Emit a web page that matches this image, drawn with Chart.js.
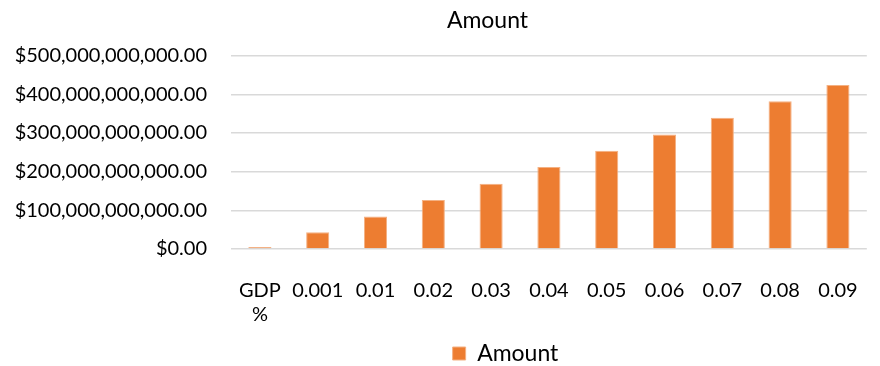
<!DOCTYPE html>
<html>
<head>
<meta charset="utf-8">
<script src="https://cdn.jsdelivr.net/npm/chart.js@4/dist/chart.umd.min.js"></script>
<style>
  html, body { margin: 0; padding: 0; background: #ffffff; }
  #wrap { width: 880px; height: 366px; }
</style>
</head>
<body>
<div id="wrap"><canvas id="grafico"></canvas></div>
<script>
// Categorias e valores
const categorias = [['GDP', '%'], '0.001', '0.01', '0.02', '0.03', '0.04', '0.05', '0.06', '0.07', '0.08', '0.09'];
const valores = [5e9, 43e9, 84e9, 127e9, 169e9, 212e9, 254e9, 296e9, 339e9, 382e9, 424e9];
const serieNome = 'Amount';
const eixoMax = 500e9;
const eixoPasso = 100e9;

const fonte = 'Lato, "Open Sans", sans-serif';

function formatarDolar(v) {
    return '$' + Number(v).toLocaleString('en-US', { minimumFractionDigits: 2, maximumFractionDigits: 2 });
}

// Excel centra título e legenda um pouco à direita do centro do canvas
const deslocarBlocos = {
    id: 'deslocarBlocos',
    afterLayout(chart) {
        if (chart.titleBlock) {
            chart.titleBlock.left += 46;
            chart.titleBlock.right += 46;
        }
        if (chart.legend) {
            chart.legend.left += 64;
            chart.legend.right += 64;
        }
    }
};

const ctx = document.getElementById('grafico').getContext('2d');
const grafico = new Chart(ctx, {
    type: 'bar',
    data: {
        labels: categorias,
        datasets: [{
            label: serieNome,
            data: valores,
            backgroundColor: '#ED7D31',
            borderColor: '#F4B183',
            borderWidth: 1,
            barPercentage: 0.4,
            categoryPercentage: 1.0
        }]
    },
    options: {
        responsive: true,
        maintainAspectRatio: false,
        animation: false,
        layout: { padding: { left: 10, right: 7, top: 5, bottom: -9 } },
        plugins: {
            title: {
                display: true,
                text: 'Amount',
                color: '#000000',
                font: { family: fonte, size: 23, weight: 'normal' },
                padding: { top: 2, bottom: 21 }
            },
            legend: {
                display: true,
                position: 'bottom',
                labels: {
                    color: '#000000',
                    font: { family: fonte, size: 23 },
                    boxWidth: 13,
                    boxHeight: 13,
                    padding: 2
                }
            },
            tooltip: { enabled: false }
        },
        scales: {
            x: {
                afterFit: function (escala) { escala.height -= 9; },
                grid: { display: false },
                border: { display: false },
                ticks: {
                    color: '#000000',
                    font: { family: fonte, size: 20 },
                    maxRotation: 0,
                    autoSkip: false,
                    padding: 22
                }
            },
            y: {
                min: 0,
                max: eixoMax,
                afterFit: function (escala) { escala.width = 221; },
                grid: { color: '#D9D9D9', lineWidth: 1.5, drawTicks: false },
                border: { display: false },
                ticks: {
                    stepSize: eixoPasso,
                    color: '#000000',
                    font: { family: fonte, size: 20 },
                    padding: 24,
                    callback: function (v) { return formatarDolar(v); }
                }
            }
        }
    },
    plugins: [deslocarBlocos]
});
</script>
</body>
</html>
